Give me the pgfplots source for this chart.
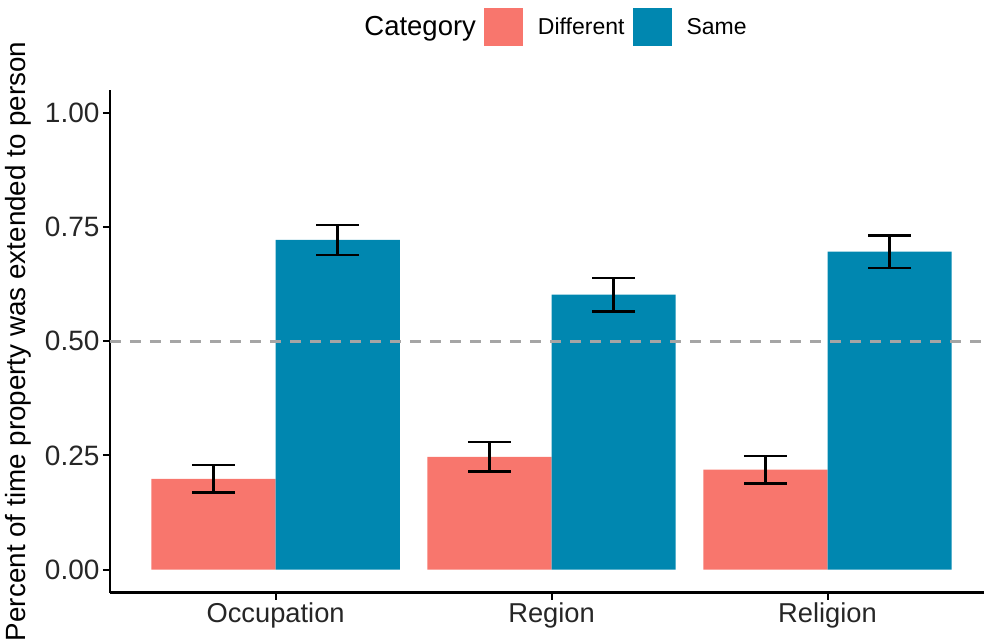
\documentclass[border=0pt]{standalone}
\usepackage{pgfplots}
\pgfplotsset{compat=1.18}
\usepackage{fontspec}
\setmainfont{Liberation Sans}
\definecolor{cdiff}{HTML}{F8766D}
\definecolor{csame}{HTML}{0087B0}
\definecolor{cdash}{HTML}{A5A5A5}
\begin{document}
\begin{tikzpicture}
\begin{axis}[
  scale only axis, width=874pt, height=502.5pt,
  xmin=0.4, xmax=3.567, ymin=-0.05, ymax=1.05,
  axis x line*=bottom, axis y line*=left,
  axis line style={line width=2.5pt, -},
  xtick={1,2,3}, xticklabels={Occupation,Region,Religion},
  ytick={0,0.25,0.5,0.75,1},
  yticklabel style={/pgf/number format/fixed, /pgf/number format/fixed zerofill, /pgf/number format/precision=2, font=\fontsize{28}{33}\selectfont},
  xticklabel style={font=\fontsize{27.3}{33}\selectfont},
  /pgf/number format/assume math mode=true,
  tick align=outside, major tick length=7pt,
  tick style={line width=2pt, black},
  ticklabel style={text=black!85},
  ylabel={Percent of time property was extended to person},
  ylabel style={font=\fontsize{27.8}{33}\selectfont, text=black},
  ylabel shift=7pt,
  legend columns=-1,
  legend style={draw=none, fill=none, at={(0.5,1)}, anchor=center, yshift=63pt, xshift=2pt,
    font=\fontsize{23}{28}\selectfont,
    /tikz/every even column/.append style={column sep=6pt},
    /tikz/every odd column/.append style={column sep=13pt}},
]
\addlegendimage{empty legend}
\addlegendentry{\fontsize{27.5}{32}\selectfont Category\hspace{5pt}}
\addplot[ybar, bar width=0.45, bar shift=0pt, fill=cdiff, draw=none,
  legend image code/.code={\fill[cdiff] (0pt,-19pt) rectangle (39pt,19pt);},
  error bars/.cd, y dir=both, y explicit,
  error bar style={line width=2.5pt, black},
  error mark options={rotate=90, mark size=21.5pt, line width=2.5pt, black}]
  coordinates {(0.775,0.199) +- (0,0.030) (1.775,0.247) +- (0,0.032) (2.775,0.219) +- (0,0.030)};
\addlegendentry{Different}
\addplot[ybar, bar width=0.45, bar shift=0pt, fill=csame, draw=none,
  legend image code/.code={\fill[csame] (0pt,-19pt) rectangle (39pt,19pt);},
  error bars/.cd, y dir=both, y explicit,
  error bar style={line width=2.5pt, black},
  error mark options={rotate=90, mark size=21.5pt, line width=2.5pt, black}]
  coordinates {(1.225,0.722) +- (0,0.033) (2.225,0.602) +- (0,0.037) (3.225,0.696) +- (0,0.036)};
\addlegendentry{Same}
\addplot[forget plot, cdash, line width=2.5pt, dash pattern=on 11pt off 9pt]
  coordinates {(0.4,0.5) (3.567,0.5)};
\coordinate (tl) at (axis description cs:0,1);
\coordinate (br) at (axis description cs:1,0);
\end{axis}
\pgfresetboundingbox
\useasboundingbox ([shift={(-110pt,90pt)}]tl) rectangle ([shift={(0pt,-50.5pt)}]br);
\end{tikzpicture}
\end{document}
